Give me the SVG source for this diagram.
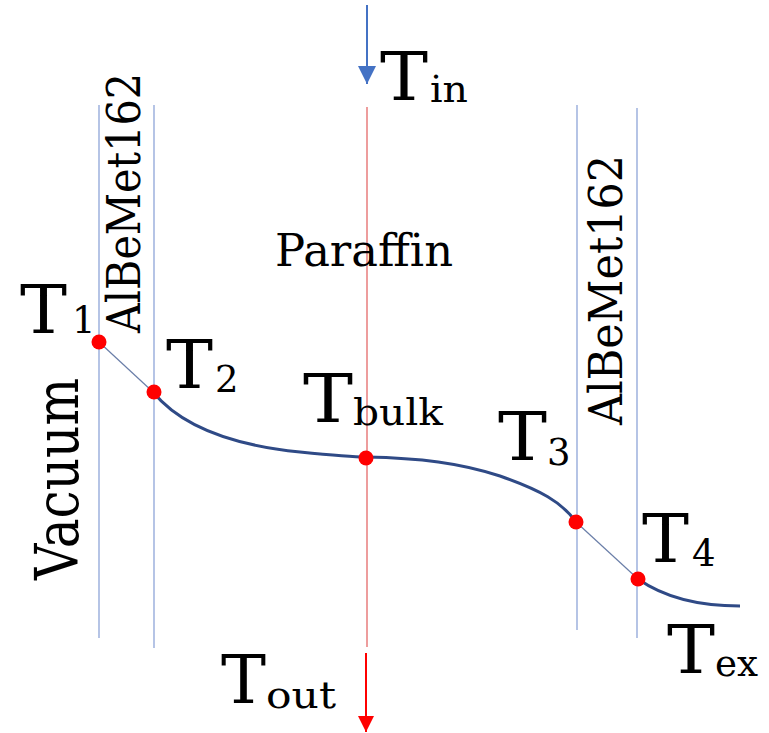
<svg xmlns="http://www.w3.org/2000/svg" width="769" height="733" viewBox="0 0 769 733">
<defs>
<marker id="ab" viewBox="0 0 10 10" refX="10" refY="5" markerWidth="18" markerHeight="18" markerUnits="userSpaceOnUse" orient="auto"><path d="M0,0 L10,5 L0,10 z" fill="#4472c4"/></marker>
<marker id="ar" viewBox="0 0 10 10" refX="10" refY="5" markerWidth="16" markerHeight="18" markerUnits="userSpaceOnUse" orient="auto"><path d="M0,0 L10,5 L0,10 z" fill="#ff0000"/></marker>
</defs>
<style>
text{font-family:'DejaVu Serif',serif;fill:#000}
.big{font-size:68px}
.sub{font-size:37px}
.wall{stroke:#8ea5d8;stroke-width:1.3;fill:none}
.grad{stroke:#6a7ea8;stroke-width:1.2;fill:none}
.dot{fill:#ff0000}
</style>
<rect width="769" height="733" fill="#fff"/>
<g id="walls">
<line class="wall" x1="99" y1="105" x2="99" y2="638"/>
<line class="wall" x1="154" y1="105" x2="154" y2="648"/>
<line class="wall" x1="577" y1="105" x2="577" y2="630"/>
<line class="wall" x1="637" y1="108" x2="637" y2="638"/>
</g>
<g id="connectors">
<line x1="367" y1="5" x2="367" y2="84" stroke="#4472c4" stroke-width="2" marker-end="url(#ab)"/>
<line x1="367" y1="107" x2="367" y2="647" stroke="#e25c5c" stroke-width="1.2"/>
<line x1="366" y1="653" x2="366" y2="732" stroke="#ff0000" stroke-width="2" marker-end="url(#ar)"/>
<line class="grad" x1="99" y1="342" x2="153" y2="392"/>
<line class="grad" x1="576" y1="522" x2="638" y2="579"/>
<path d="M153,392 C180,425 230,445 300,452 C330,455 350,457 366,457 C420,458 460,463 500,476 C540,490 562,502 576,522" stroke="#2f4a86" stroke-width="3" fill="none"/>
<path d="M638,579 C665,598 700,606 740,606" stroke="#2f4a86" stroke-width="3" fill="none"/>
</g>
<g id="T1"><circle class="dot" cx="99" cy="342" r="7.5"/><text x="20" y="333"><tspan class="big" textLength="47" lengthAdjust="spacingAndGlyphs">T</tspan><tspan class="sub" dx="5">1</tspan></text></g>
<g id="T2"><circle class="dot" cx="154" cy="392" r="7.5"/><text x="166" y="388"><tspan class="big" textLength="47" lengthAdjust="spacingAndGlyphs">T</tspan><tspan class="sub" dx="2" dy="4">2</tspan></text></g>
<g id="Tbulk"><circle class="dot" cx="366" cy="458" r="7.5"/><text x="303" y="422"><tspan class="big" textLength="50" lengthAdjust="spacingAndGlyphs">T</tspan><tspan class="sub" dy="3" textLength="90" lengthAdjust="spacingAndGlyphs">bulk</tspan></text></g>
<g id="T3"><circle class="dot" cx="576" cy="522" r="7.5"/><text x="498" y="460"><tspan class="big" textLength="49" lengthAdjust="spacingAndGlyphs">T</tspan><tspan class="sub" dy="5">3</tspan></text></g>
<g id="T4"><circle class="dot" cx="638" cy="579" r="7.5"/><text x="642" y="562"><tspan class="big" textLength="47" lengthAdjust="spacingAndGlyphs">T</tspan><tspan class="sub" dx="3" dy="4">4</tspan></text></g>
<g id="Tin"><text x="380" y="100"><tspan class="big" textLength="48" lengthAdjust="spacingAndGlyphs">T</tspan><tspan class="sub" dx="2" dy="2" textLength="38" lengthAdjust="spacingAndGlyphs">in</tspan></text></g>
<g id="Tout"><text x="221" y="703"><tspan class="big" textLength="45" lengthAdjust="spacingAndGlyphs">T</tspan><tspan class="sub" dy="5" textLength="70" lengthAdjust="spacingAndGlyphs">out</tspan></text></g>
<g id="Tex"><text x="667" y="673"><tspan class="big" textLength="48" lengthAdjust="spacingAndGlyphs">T</tspan><tspan class="sub" dy="3" textLength="43" lengthAdjust="spacingAndGlyphs">ex</tspan></text></g>
<g id="Paraffin"><text x="275" y="266" font-size="44" textLength="178" lengthAdjust="spacingAndGlyphs">Paraffin</text></g>
<g id="AlBeMet162-left"><text font-size="46" text-anchor="middle" transform="translate(140,203) rotate(-90)" textLength="260" lengthAdjust="spacingAndGlyphs">AlBeMet162</text></g>
<g id="AlBeMet162-right"><text font-size="46" text-anchor="middle" transform="translate(622,290) rotate(-90)" textLength="270" lengthAdjust="spacingAndGlyphs">AlBeMet162</text></g>
<g id="Vacuum"><text font-size="60" text-anchor="middle" transform="translate(78,479) rotate(-90)" textLength="202" lengthAdjust="spacingAndGlyphs">Vacuum</text></g>
</svg>
